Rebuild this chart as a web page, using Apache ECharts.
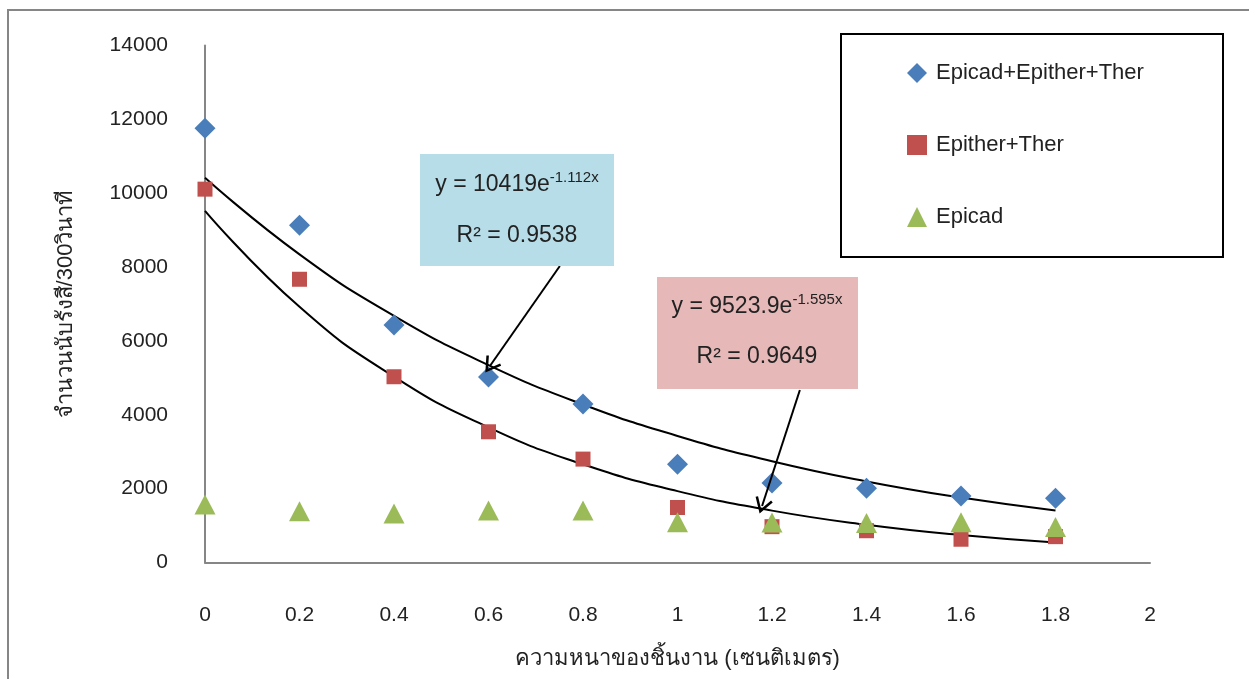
<!DOCTYPE html>
<html>
<head>
<meta charset="utf-8">
<script src="https://cdn.jsdelivr.net/npm/echarts@6/dist/echarts.min.js"></script>
<style>html,body{margin:0;padding:0;background:#fff;}#c{width:1249px;height:679px;}</style>
</head>
<body>
<div id="c"></div>
<script>
// ---- data ----
const thickness = [0, 0.2, 0.4, 0.6, 0.8, 1.0, 1.2, 1.4, 1.6, 1.8];
const seriesNames = ['Epicad+Epither+Ther', 'Epither+Ther', 'Epicad'];
const epicadEpitherTher = [11760, 9130, 6430, 5020, 4290, 2660, 2150, 2010, 1800, 1740];
const epitherTher = [10110, 7670, 5030, 3540, 2800, 1490, 970, 860, 630, 700];
const epicad = [1570, 1390, 1330, 1410, 1410, 1090, 1080, 1070, 1090, 960];
// trend curves as drawn in the picture (values at each thickness)
const trendUpper = [10419, 8344, 6679, 5346, 4280, 3427, 2743, 2196, 1758, 1408];
const trendLower = [9524, 6923, 5032, 3657, 2659, 1933, 1405, 1021, 742, 539];
const xTicks = ['0','0.2','0.4','0.6','0.8','1','1.2','1.4','1.6','1.8','2'];
const yTicks = ['0','2000','4000','6000','8000','10000','12000','14000'];
const yTitle = 'จำนวนนับรังสี/300วินาที';
const xTitle = 'ความหนาของชิ้นงาน (เซนติเมตร)';
const eqUpper = ['y = 10419e', '-1.112x', 'R² = 0.9538'];
const eqLower = ['y = 9523.9e', '-1.595x', 'R² = 0.9649'];
// arrow endpoints in data coordinates
const arrowUpper = [[0.751, 8030], [0.603, 5320]];
const arrowLower = [[1.259, 4670], [1.179, 1530]];

const FONT = '"Liberation Sans", "Noto Sans", "DejaVu Sans", sans-serif';
const pair = (xs, ys) => xs.map((x, i) => [x, ys[i]]);
const colors = ['#4a7ebb', '#c0504d', '#9bbb59'];
// open "V" arrow head, tip at top
const arrowHead = 'path://M10,0 L20,16 L17.6,17.4 L10,5.2 L2.4,17.4 L0,16 Z';

const chart = echarts.init(document.getElementById('c'));
const trendMark = (pts) => ({
  silent: true, symbol: ['none', arrowHead], symbolSize: [18, 16],
  itemStyle: { color: '#000' },
  lineStyle: { color: '#000', width: 2, type: 'solid' }, label: { show: false },
  data: [[{ coord: pts[0] }, { coord: pts[1] }]]
});
const option = {
  animation: false,
  backgroundColor: '#fff',
  grid: { left: 205, right: 99, top: 45.5, bottom: 116.5 },
  xAxis: {
    type: 'value', min: 0, max: 2, interval: 0.2,
    axisLine: { show: true, onZero: true, lineStyle: { color: '#868686', width: 2 } },
    axisTick: { show: false },
    splitLine: { show: false },
    axisLabel: { color: '#222', fontSize: 21, fontFamily: FONT, margin: 42,
      formatter: (v) => xTicks[Math.round(v / 0.2)] },
    name: xTitle, nameLocation: 'middle', nameGap: 85,
    nameTextStyle: { color: '#222', fontSize: 22, fontFamily: FONT }
  },
  yAxis: {
    type: 'value', min: 0, max: 14000, interval: 2000,
    axisLine: { show: true, lineStyle: { color: '#868686', width: 2 } },
    axisTick: { show: false },
    splitLine: { show: false },
    axisLabel: { color: '#222', fontSize: 21, fontFamily: FONT, margin: 37,
      formatter: (v) => yTicks[Math.round(v / 2000)] },
    name: yTitle, nameLocation: 'middle', nameGap: 128, nameRotate: 90,
    nameTextStyle: { color: '#222', fontSize: 22, fontFamily: FONT }
  },
  legend: {
    data: seriesNames.map((n, i) => ({ name: n, icon: ['diamond', 'rect', 'triangle'][i] })),
    orient: 'vertical', left: 902, top: 57,
    itemWidth: 20, itemHeight: 20, itemGap: 50,
    textStyle: { color: '#222', fontSize: 22, fontFamily: FONT, padding: [0, 0, 0, 4] }
  },
  series: [
    { name: 'trendUpper', type: 'line', data: pair(thickness, trendUpper), smooth: 0.5,
      showSymbol: false, lineStyle: { color: '#000', width: 2 }, z: 1, silent: true,
      markLine: trendMark(arrowUpper) },
    { name: 'trendLower', type: 'line', data: pair(thickness, trendLower), smooth: 0.5,
      showSymbol: false, lineStyle: { color: '#000', width: 2 }, z: 1, silent: true,
      markLine: trendMark(arrowLower) },
    { name: seriesNames[0], type: 'scatter', symbol: 'diamond', symbolSize: 21,
      itemStyle: { color: colors[0], opacity: 1 }, data: pair(thickness, epicadEpitherTher), z: 3 },
    { name: seriesNames[1], type: 'scatter', symbol: 'rect', symbolSize: 15,
      itemStyle: { color: colors[1], opacity: 1 }, data: pair(thickness, epitherTher), z: 3 },
    { name: seriesNames[2], type: 'scatter', symbol: 'triangle', symbolSize: [21, 20],
      itemStyle: { color: colors[2], opacity: 1 }, data: pair(thickness, epicad), z: 4 }
  ],
  graphic: [
    { type: 'polyline', shape: { points: [[8, 680], [8, 10], [1250, 10]] },
      style: { stroke: '#868686', lineWidth: 2, fill: null }, z: 0 },
    { type: 'rect', shape: { x: 841, y: 34, width: 382, height: 223 },
      style: { stroke: '#000', lineWidth: 2, fill: null }, z: 10 },
    { type: 'rect', shape: { x: 420, y: 154, width: 194, height: 112 }, style: { fill: '#b7dde8' }, z: 10 },
    { type: 'text', x: 517, y: 185, z: 11,
      style: { text: '{b|' + eqUpper[0] + '}{s|' + eqUpper[1] + '}', align: 'center', verticalAlign: 'middle',
        rich: { b: { fontSize: 23, fontFamily: FONT, fill: '#222' },
                s: { fontSize: 15, fontFamily: FONT, fill: '#222', padding: [0, 0, 15, 0] } } } },
    { type: 'text', x: 517, y: 236, z: 11,
      style: { text: eqUpper[2], align: 'center', verticalAlign: 'middle', fontSize: 23, fontFamily: FONT, fill: '#222' } },
    { type: 'rect', shape: { x: 657, y: 277, width: 201, height: 112 }, style: { fill: '#e6b9b8' }, z: 10 },
    { type: 'text', x: 757, y: 307, z: 11,
      style: { text: '{b|' + eqLower[0] + '}{s|' + eqLower[1] + '}', align: 'center', verticalAlign: 'middle',
        rich: { b: { fontSize: 23, fontFamily: FONT, fill: '#222' },
                s: { fontSize: 15, fontFamily: FONT, fill: '#222', padding: [0, 0, 15, 0] } } } },
    { type: 'text', x: 757, y: 357, z: 11,
      style: { text: eqLower[2], align: 'center', verticalAlign: 'middle', fontSize: 23, fontFamily: FONT, fill: '#222' } }
  ]
};
chart.setOption(option);
</script>
</body>
</html>
